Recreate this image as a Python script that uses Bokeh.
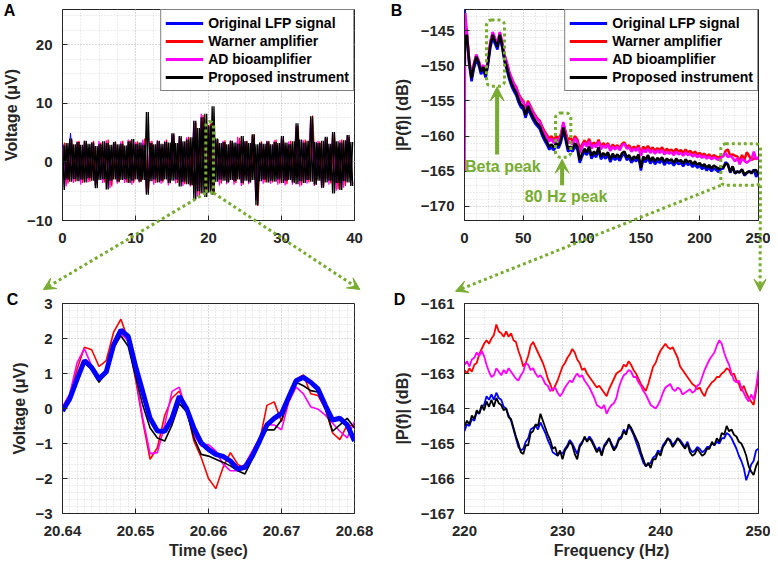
import numpy as np
from bokeh.plotting import figure
from bokeh.models import (Range1d, FixedTicker, Arrow, VeeHead, BoxAnnotation,
                          Label, Legend, LegendItem, NumeralTickFormatter, GridBox)
from bokeh.embed import file_html
from bokeh.resources import INLINE

FONT = "Liberation Sans"
AXC = "#262626"
GREEN = "#77AC30"
BLUE, RED, MAG, BLK = "#0000FF", "#FF0000", "#FF00FF", "#000000"
SERIES_LABELS = ["Original LFP signal", "Warner amplifier", "AD bioamplifier", "Proposed instrument"]
SERIES_COLORS = [BLUE, RED, MAG, BLK]

# ---------------- Panel A: raw LFP, envelope (max/min) per time bin ----------------
black_hi_A = [2.8, 3.2, 4.0, 3.0, 3.4, 2.9, 3.6, 3.1, 3.3, 2.7,
              3.0, 3.5, 3.2, 2.9, 3.4, 3.0, 3.1, 2.8, 3.5, 3.9,
              3.0, 3.3, 2.9, 8.5, 3.2, 3.0, 3.6, 3.1, 3.4, 3.3,
              4.9, 3.2, 4.4, 3.5, 3.8, 4.2, 7.0, 5.8, 7.6, 8.2,
              6.2, 9.5, 4.0, 3.2, 3.4, 3.0, 3.6, 3.3, 3.1, 4.4,
              3.5, 3.2, 4.7, 3.0, 3.3, 3.1, 3.5, 3.0, 3.4, 3.2,
              4.4, 3.3, 3.0, 3.5, 6.6, 3.8, 3.3, 3.6, 7.8, 3.4,
              3.2, 3.6, 4.3, 3.1, 5.1, 3.5, 3.3, 3.7, 4.6, 3.4]
black_lo_A = [-4.8, -3.0, -3.4, -2.9, -3.3, -3.0, -3.5, -2.8, -3.2, -4.5,
              -3.1, -2.9, -4.7, -3.2, -3.0, -3.4, -3.1, -2.9, -3.6, -3.2,
              -3.0, -3.4, -3.1, -5.6, -3.3, -3.0, -3.5, -3.2, -3.0, -3.6,
              -3.2, -3.0, -4.2, -3.4, -3.8, -4.0, -6.4, -5.0, -5.4, -6.0,
              -5.2, -5.6, -3.4, -3.0, -3.2, -3.5, -3.1, -3.3, -3.0, -3.6,
              -3.2, -3.5, -3.1, -7.4, -3.3, -3.0, -3.5, -3.2, -3.4, -3.0,
              -3.6, -3.2, -3.1, -3.5, -3.8, -3.3, -3.6, -3.1, -3.4, -3.9,
              -3.2, -4.4, -3.5, -3.2, -5.4, -3.6, -4.8, -3.3, -3.5, -4.1]
mag_hi_A = [3.2, 3.9, 3.5, 3.6, 3.4, 3.6, 3.7, 3.3, 3.5, 3.8,
            3.4, 3.8, 3.5, 3.7, 3.6, 4.8, 4.3, 4.2, 7.0, 8.2,
            6.3, 3.9, 3.6, 3.7, 4.3, 3.5, 4.6, 3.3, 3.6, 3.7,
            4.2, 3.5, 6.2, 3.7, 7.5, 3.6, 4.1, 4.8, 3.7, 4.5]
mag_lo_A = [-4.2, -3.6, -3.9, -3.5, -4.1, -3.6, -4.5, -3.7, -3.6, -3.9,
            -3.5, -5.3, -3.9, -3.7, -4.0, -3.7, -4.1, -4.2, -5.9, -5.5,
            -4.7, -4.0, -3.8, -3.9, -4.1, -3.8, -6.6, -3.7, -3.7, -3.9,
            -4.0, -3.9, -4.2, -3.7, -4.1, -4.5, -3.9, -4.9, -4.4, -4.0]
red_hi_A = [3.3, 3.8, 3.6, 3.5, 3.6, 3.3, 3.8, 3.5, 3.6, 3.7,
            3.5, 4.0, 3.6, 3.5, 3.8, 4.6, 4.1, 4.3, 6.8, 8.0,
            6.6, 3.8, 3.7, 3.6, 4.1, 3.6, 4.7, 3.5, 3.5, 3.8,
            4.0, 3.6, 6.1, 3.8, 7.9, 3.5, 4.0, 4.7, 3.8, 4.3]
red_lo_A = [-3.7, -3.4, -3.6, -3.4, -3.7, -3.5, -4.2, -3.5, -3.5, -3.6,
            -3.4, -5.2, -3.6, -3.5, -3.7, -3.6, -3.8, -4.0, -5.8, -5.4,
            -5.0, -3.7, -3.5, -3.6, -3.9, -3.5, -7.5, -3.5, -3.5, -3.7,
            -3.8, -3.6, -4.0, -3.5, -3.9, -4.3, -3.7, -4.7, -4.1, -3.8]
blue_hi_A = [3.0, 4.9, 3.1, 2.9, 3.0, 3.2, 3.0, 3.1, 2.9, 3.0,
             3.1, 3.2, 3.0, 2.9, 3.1, 3.0, 3.2, 3.0, 3.3, 3.4,
             3.5, 3.0, 3.1, 3.0, 3.2, 2.9, 3.1, 3.0, 3.2, 3.0,
             3.1, 3.0, 3.3, 3.1, 3.0, 3.2, 3.1, 3.0, 3.2, 3.1]
blue_lo_A = [-3.0, -2.9, -3.1, -3.0, -2.9, -3.1, -3.0, -2.9, -3.1, -3.0,
             -3.0, -3.2, -2.9, -3.0, -3.1, -3.0, -2.9, -3.1, -3.3, -3.2,
             -3.4, -3.0, -2.9, -3.1, -3.0, -3.2, -3.0, -3.1, -2.9, -3.0,
             -3.1, -3.0, -3.2, -2.9, -3.0, -3.1, -3.0, -2.9, -3.1, -3.0]

# ---------------- Panel B: spectrum ----------------
freq_B = [0, 0.6] + list(range(2, 251, 2))
blue_B = [-141.0, -143.5,
          -145.9, -149.9, -152.2, -150.4, -149.1, -149.9, -151.2, -150.6, -151.7, -149.9,
          -147.4, -146.0, -146.9, -147.7, -146.0, -147.4, -149.4, -150.6, -151.9, -152.9,
          -153.6, -154.2, -155.2, -155.9, -156.2, -157.4, -156.1, -156.9, -157.6, -158.2,
          -158.6, -159.0, -159.9, -160.6, -161.2, -161.9, -161.6, -162.0, -161.4, -161.7,
          -160.9, -159.2, -160.6, -162.2, -161.9, -162.2, -161.4, -161.9, -163.8, -162.9,
          -162.2, -162.7, -161.9, -163.2, -162.6, -163.0, -162.0, -163.3, -162.8, -163.2,
          -162.7, -163.7, -162.9, -163.4, -163.0, -163.5, -162.8, -162.6, -163.4, -163.1,
          -163.8, -163.3, -163.6, -163.0, -164.9, -163.3, -163.7, -163.1, -163.9, -163.4,
          -164.0, -163.5, -163.8, -163.4, -164.1, -163.6, -163.9, -163.7, -164.2, -163.6,
          -164.0, -163.8, -164.3, -163.7, -164.1, -163.9, -164.4, -164.0, -164.5, -164.2,
          -164.7, -164.4, -164.9, -164.5, -165.0, -164.6, -164.8, -165.1, -164.7, -164.6,
          -163.7, -164.0, -165.2, -164.4, -165.3, -165.1, -165.1, -164.8, -165.6, -165.3,
          -165.0, -165.2, -164.8, -165.8, -165.2]
red_B = [-149.0, -145.5,
         -145.2, -149.3, -151.5, -149.8, -148.5, -149.3, -150.5, -150.0, -151.0, -149.2,
         -146.7, -145.3, -146.2, -147.0, -145.3, -146.6, -148.5, -149.6, -150.9, -151.8,
         -152.5, -153.0, -154.0, -154.6, -155.0, -156.2, -155.0, -155.7, -156.4, -157.0,
         -157.5, -157.8, -158.6, -159.3, -159.8, -160.4, -160.0, -160.6, -160.0, -160.4,
         -159.7, -158.2, -159.4, -160.6, -160.2, -160.8, -160.0, -160.5, -161.8, -161.2,
         -160.6, -161.1, -160.4, -161.4, -160.9, -161.3, -160.5, -161.5, -161.0, -161.4,
         -161.0, -161.8, -161.2, -161.6, -161.3, -161.7, -161.1, -160.9, -161.6, -161.3,
         -161.9, -161.5, -161.8, -161.3, -162.4, -161.5, -161.9, -161.4, -162.0, -161.6,
         -162.1, -161.7, -162.0, -161.6, -162.2, -161.8, -162.1, -161.9, -162.3, -161.8,
         -162.2, -162.0, -162.4, -161.9, -162.3, -162.1, -162.5, -162.2, -162.6, -162.4,
         -162.7, -162.5, -162.9, -162.6, -163.0, -162.7, -162.9, -163.1, -162.8, -162.9,
         -162.1, -161.9, -162.8, -162.6, -162.8, -162.9, -163.5, -162.7, -163.4, -162.3,
         -162.8, -163.4, -163.2, -163.2, -163.1]
mag_B = [-165.0, -142.5,
         -145.1, -149.2, -151.4, -149.7, -148.4, -149.2, -150.4, -149.9, -150.9, -149.1,
         -146.6, -145.2, -146.1, -146.9, -145.2, -146.5, -148.4, -149.5, -150.8, -151.7,
         -152.6, -153.1, -154.1, -154.8, -155.2, -156.4, -155.2, -155.9, -156.6, -157.2,
         -157.6, -158.0, -158.9, -159.6, -160.1, -160.8, -160.4, -161.0, -160.4, -160.7,
         -160.0, -158.0, -159.6, -161.0, -160.8, -161.2, -160.3, -160.9, -162.4, -161.6,
         -160.9, -161.5, -160.7, -161.8, -161.2, -161.6, -160.8, -161.9, -161.3, -161.7,
         -161.2, -162.1, -161.5, -161.9, -161.5, -162.0, -161.3, -161.1, -161.8, -161.6,
         -162.2, -161.8, -162.1, -161.6, -162.8, -161.9, -162.3, -161.8, -162.4, -162.0,
         -162.5, -162.0, -162.4, -162.0, -162.6, -162.2, -162.5, -162.3, -162.7, -162.2,
         -162.6, -162.4, -162.8, -162.3, -162.7, -162.5, -162.9, -162.6, -163.0, -162.7,
         -163.1, -162.8, -163.2, -162.9, -163.3, -163.0, -163.2, -163.4, -163.1, -162.8,
         -162.4, -163.0, -162.8, -163.1, -163.6, -163.1, -164.0, -163.2, -163.5, -163.8,
         -163.5, -163.3, -162.2, -163.3, -163.0]
black_B = [-150.0, -146.0,
           -145.6, -149.5, -151.8, -150.0, -148.7, -149.5, -150.8, -150.2, -151.3, -149.5,
           -147.0, -145.6, -146.5, -147.3, -145.6, -147.0, -149.0, -150.2, -151.5, -152.5,
           -153.2, -153.8, -154.8, -155.5, -155.8, -157.0, -155.7, -156.5, -157.2, -157.8,
           -158.2, -158.6, -159.5, -160.2, -160.8, -161.5, -161.2, -161.6, -161.0, -161.3,
           -160.5, -158.8, -160.2, -161.8, -161.5, -161.8, -161.0, -161.5, -163.4, -162.5,
           -161.8, -162.3, -161.5, -162.8, -162.2, -162.6, -161.6, -162.9, -162.4, -162.8,
           -162.3, -163.3, -162.5, -163.0, -162.6, -163.1, -162.4, -162.2, -163.0, -162.7,
           -163.4, -162.9, -163.2, -162.6, -164.5, -162.9, -163.3, -162.7, -163.5, -163.0,
           -163.6, -163.1, -163.4, -163.0, -163.7, -163.2, -163.5, -163.3, -163.8, -163.2,
           -163.6, -163.4, -163.9, -163.3, -163.7, -163.5, -164.0, -163.6, -164.1, -163.8,
           -164.3, -164.0, -164.5, -164.1, -164.6, -164.2, -164.4, -164.7, -164.3, -164.5,
           -163.9, -164.1, -165.1, -164.3, -165.3, -165.0, -165.2, -164.7, -165.5, -165.2,
           -165.0, -165.3, -164.9, -164.8, -165.6]

# ---------------- Panel C: zoomed time signal ----------------
time_C = [round(20.640 + 0.001 * k, 3) for k in range(41)]
blue_C = [-0.07, 0.28, 0.84, 1.37, 1.17, 0.84, 1.05, 1.82, 2.24, 2.06, 1.21, 0.47, -0.28, -0.64,
          -0.65, -0.28, 0.35, 0.0, -0.56, -0.98, -1.17, -1.31, -1.37, -1.5, -1.73, -1.68, -1.36,
          -0.93, -0.47, -0.28, -0.14, 0.33, 0.79, 0.89, 0.75, 0.56, 0.09, -0.33, -0.28, -0.47, -0.93]
red_C = [0.0, 0.37, 1.12, 1.75, 1.68, 1.2, 1.37, 2.18, 2.55, 1.96, 0.84, -0.37, -1.45, -1.12,
         -0.2, 0.3, 0.5, 0.0, -0.93, -1.4, -2.0, -2.29, -1.68, -1.26, -1.59, -1.73, -1.31,
         -0.93, 0.09, 0.19, -0.37, 0.28, 0.84, 0.96, 0.42, 0.37, 0.0, -0.7, -0.89, -0.47, -0.5]
mag_C = [0.05, 0.42, 1.31, 1.71, 1.21, 0.79, 1.03, 1.87, 2.15, 1.92, 0.93, -0.28, -1.29, -1.26,
         -0.47, 0.49, 0.61, -0.09, -0.75, -1.07, -1.03, -1.21, -1.59, -1.78, -1.78, -1.59, -1.21,
         -0.84, -0.47, -0.47, -0.61, 0.19, 0.61, 0.42, 0.05, -0.02, -0.19, -0.42, -0.65, -0.84, -0.37]
black_C = [-0.02, 0.28, 0.79, 1.31, 1.12, 0.75, 1.05, 1.73, 2.08, 1.78, 0.93, 0.09, -0.56, -0.84,
           -0.93, -0.47, 0.14, -0.09, -0.84, -1.31, -1.36, -1.45, -1.54, -1.64, -1.78, -1.87, -1.45,
           -0.93, -0.61, -0.61, -0.33, 0.23, 0.75, 0.65, 0.51, 0.47, 0.0, -0.65, -0.47, -0.28, -0.56]

# ---------------- Panel D: zoomed spectrum 220-250 Hz ----------------
freq_D = [220 + 0.25 * k for k in range(121)]
blue_D = [-164.65, -164.45, -164.5, -164.3, -164.35, -164.1, -164.15, -163.95,
          -163.9, -163.65, -163.75, -163.6, -163.75, -163.55, -163.7, -163.75,
          -163.95, -164.0, -164.2, -164.35, -164.6, -164.85, -165.1, -165.2,
          -165.15, -164.95, -164.85, -164.6, -164.55, -164.5, -164.6, -164.4,
          -164.55, -164.7, -164.9, -165.05, -165.25, -165.3, -165.35, -165.25,
          -165.3, -165.15, -165.05, -164.9, -165.0, -165.15, -165.3, -165.05,
          -164.95, -164.85, -164.9, -164.8, -164.9, -165.05, -165.2, -165.1,
          -165.3, -165.05, -164.95, -164.85, -165.0, -165.15, -165.05, -164.85,
          -164.8, -164.6, -164.7, -164.5, -164.6, -164.75, -164.95, -165.15,
          -165.35, -165.55, -165.65, -165.6, -165.55, -165.4, -165.35, -165.2,
          -165.25, -165.05, -164.95, -164.85, -164.9, -165.05, -164.95, -164.85,
          -164.9, -165.0, -165.1, -164.95, -165.15, -165.25, -165.2, -165.1,
          -165.15, -165.25, -165.2, -165.1, -165.1, -165.0, -165.05, -164.95,
          -165.0, -164.85, -164.85, -164.7, -164.75, -164.85, -165.0, -165.15,
          -165.35, -165.5, -165.7, -166.05, -165.85, -165.6, -165.5, -165.2,
          -165.15]
red_D = [-162.9, -163.0, -162.85, -162.95, -162.75, -162.7, -162.45, -162.3,
         -162.15, -162.05, -162.15, -162.0, -161.9, -161.6, -161.8, -161.85,
         -161.95, -161.8, -161.95, -161.85, -162.05, -162.1, -162.35, -162.55,
         -162.8, -162.7, -162.5, -162.2, -162.1, -162.25, -162.4, -162.55,
         -162.7, -162.9, -163.15, -163.3, -163.5, -163.35, -163.2, -163.0,
         -162.8, -162.7, -162.55, -162.45, -162.3, -162.4, -162.6, -162.7,
         -162.9, -162.85, -163.0, -163.1, -163.2, -163.3, -163.4, -163.35,
         -163.45, -163.55, -163.65, -163.45, -163.3, -163.15, -163.0, -162.95,
         -162.9, -162.75, -162.8, -162.65, -162.75, -162.9, -163.0, -163.15,
         -163.3, -163.4, -163.5, -163.3, -163.05, -162.8, -162.7, -162.5,
         -162.35, -162.25, -162.15, -162.25, -162.3, -162.25, -162.4, -162.55,
         -162.8, -162.9, -163.0, -163.1, -163.2, -163.3, -163.35, -163.45,
         -163.4, -163.55, -163.65, -163.45, -163.35, -163.25, -163.2, -163.1,
         -163.1, -163.0, -162.95, -162.85, -162.9, -163.05, -163.0, -163.2,
         -163.3, -163.5, -163.35, -163.55, -163.7, -163.8, -163.9, -163.5,
         -163.1]
mag_D = [-162.75, -162.65, -162.8, -162.6, -162.55, -162.4, -162.5, -162.35,
         -162.5, -162.75, -162.95, -163.1, -163.05, -162.85, -162.95, -163.05,
         -162.9, -163.0, -162.85, -162.95, -163.05, -163.15, -163.2, -163.05,
         -162.95, -162.7, -162.75, -162.9, -162.85, -163.0, -163.1, -163.05,
         -163.15, -163.3, -163.35, -163.5, -163.45, -163.4, -163.55, -163.65,
         -163.55, -163.4, -163.3, -163.2, -163.25, -163.1, -163.0, -163.1,
         -163.05, -163.2, -163.3, -163.4, -163.55, -163.7, -163.9, -163.95,
         -164.0, -163.9, -164.15, -164.0, -163.9, -163.85, -163.7, -163.4,
         -163.2, -163.05, -163.0, -162.9, -162.95, -163.1, -163.1, -163.25,
         -163.35, -163.5, -163.6, -163.75, -163.9, -163.95, -164.0, -163.9,
         -163.75, -163.55, -163.4, -163.35, -163.3, -163.45, -163.5, -163.4,
         -163.45, -163.6, -163.55, -163.5, -163.45, -163.55, -163.5, -163.35,
         -163.3, -163.1, -162.9, -162.75, -162.6, -162.5, -162.4, -162.2,
         -162.05, -162.15, -162.4, -162.6, -162.75, -163.0, -163.2, -163.25,
         -163.2, -163.4, -163.55, -163.7, -163.8, -163.6, -163.75, -163.4,
         -162.9]
black_D = [-164.5, -164.35, -164.45, -164.2, -164.3, -164.05, -164.15, -163.9,
           -164.05, -163.8, -163.95, -163.75, -163.95, -163.7, -163.85, -163.9,
           -164.05, -164.0, -164.25, -164.3, -164.55, -164.8, -165.0, -165.25,
           -165.3, -165.05, -165.05, -164.7, -164.65, -164.45, -164.5, -164.15,
           -164.35, -164.55, -164.75, -164.9, -165.15, -165.1, -165.35, -165.2,
           -165.45, -165.2, -165.1, -164.95, -165.05, -165.3, -165.45, -165.1,
           -165.0, -164.8, -164.95, -164.85, -164.95, -165.1, -165.25, -165.15,
           -165.35, -165.1, -165.0, -164.85, -165.05, -165.2, -165.1, -164.9,
           -164.85, -164.65, -164.75, -164.45, -164.55, -164.7, -164.85, -165.0,
           -165.25, -165.45, -165.65, -165.55, -165.7, -165.45, -165.45, -165.25,
           -165.35, -165.1, -165.0, -164.85, -164.95, -165.1, -165.0, -164.85,
           -164.95, -165.05, -165.15, -165.0, -165.25, -165.35, -165.3, -165.15,
           -165.25, -165.35, -165.3, -165.15, -165.15, -164.95, -165.05, -164.85,
           -164.95, -164.7, -164.75, -164.5, -164.65, -164.6, -164.75, -164.8,
           -164.95, -165.0, -165.15, -165.35, -165.65, -165.8, -165.9, -165.65,
           -165.5]

# ---------------- layout geometry (pixels inside the 770x561 layout) ----------------
W_LEFT, W_RIGHT, H_TOP, H_BOT = 390, 380, 290, 271
BORD_L = (49, 36)     # left column: min_border left/right
BORD_R = (64, 12)     # right column
BORD_T = (9, 70)      # top row: top/bottom
BORD_B = (13, 48)     # bottom row

# ---------------- helpers ----------------
def style_axis(ax):
    ax.axis_line_color = AXC
    ax.axis_line_width = 1
    ax.major_tick_line_color = AXC
    ax.major_tick_in = 5
    ax.major_tick_out = 0
    ax.minor_tick_line_color = None
    ax.major_label_text_font = FONT
    ax.major_label_text_font_style = "bold"
    ax.major_label_text_color = AXC
    ax.major_label_text_font_size = "15px"
    ax.axis_label_text_font = FONT
    ax.axis_label_text_font_style = "bold"
    ax.axis_label_text_font_size = "16px"
    ax.axis_label_text_color = AXC


def make_fig(width, height, xr, yr, bx, by, xt, xm, yt, ym, xfmt=None):
    p = figure(width=width, height=height, x_range=Range1d(*xr), y_range=Range1d(*yr),
               output_backend="svg", toolbar_location=None,
               min_border_left=bx[0], min_border_right=bx[1],
               min_border_top=by[0], min_border_bottom=by[1])
    p.background_fill_color = "white"
    p.border_fill_color = "white"
    p.outline_line_color = AXC
    p.xaxis.ticker = FixedTicker(ticks=xt, minor_ticks=xm)
    p.yaxis.ticker = FixedTicker(ticks=yt, minor_ticks=ym)
    if xfmt is not None:
        p.xaxis.formatter = xfmt
    style_axis(p.xaxis[0])
    style_axis(p.yaxis[0])
    p.xaxis[0].major_label_standoff = 8
    p.yaxis[0].major_label_standoff = 6
    for g in (p.xgrid[0], p.ygrid[0]):
        g.grid_line_color = "#c4c4c4"
        g.grid_line_dash = "1 2"
        g.minor_grid_line_color = "#d8d8d8"
        g.minor_grid_line_dash = "1 2"
    return p


def add_legend(p):
    items = []
    for lab, col in zip(SERIES_LABELS, SERIES_COLORS):
        r = p.line([np.nan, np.nan], [np.nan, np.nan], line_color=col, line_width=3)
        items.append(LegendItem(label=lab, renderers=[r]))
    leg = Legend(items=items, location="top_right", margin=0, padding=4, spacing=0,
                 label_height=18, glyph_height=18, glyph_width=38, label_standoff=5,
                 border_line_color="black", border_line_width=1,
                 background_fill_color="white", background_fill_alpha=1,
                 label_text_font=FONT, label_text_font_style="bold",
                 label_text_font_size="14px", label_text_color="black")
    p.add_layout(leg)


def green_box(p, l, r, t, b):
    p.add_layout(BoxAnnotation(left=l, right=r, top=t, bottom=b, fill_alpha=0,
                               line_color=GREEN, line_alpha=1.0, line_width=3, line_dash="3 3",
                               border_radius=5))


def green_arrow(p, xs, ys, xe, ye, dash=True, width=3, size=12):
    p.add_layout(Arrow(end=VeeHead(size=size, fill_color=GREEN, line_color=GREEN, line_width=1),
                       x_start=xs, y_start=ys, x_end=xe, y_end=ye,
                       line_color=GREEN, line_width=width,
                       line_dash="3 3" if dash else "solid"))


def zigzag(t0, dt, hi, lo, phase=0.0, flip=False):
    xs, ys = [], []
    for i, (h, l) in enumerate(zip(hi, lo)):
        xs += [t0 + i * dt + phase, t0 + i * dt + dt / 2 + phase]
        ys += [l, h] if flip else [h, l]
    return xs, ys


# ---------------- Panel A ----------------
XR_A, YR_A = (0, 40), (-10, 26)
pA = make_fig(W_LEFT, H_TOP, XR_A, YR_A, BORD_L, BORD_T,
              [0, 10, 20, 30, 40], list(np.arange(0, 40.01, 2.5)),
              [-10, 0, 10, 20], list(np.arange(-10, 26.01, 2.5)))
pA.yaxis[0].axis_label = "Voltage (μV)"
pA.yaxis[0].axis_label_standoff = 4
for (hi, lo, dt, ph, col, lw) in [(blue_hi_A, blue_lo_A, 1.0, 0.1, BLUE, 1.0),
                                  (red_hi_A, red_lo_A, 1.0, 0.25, RED, 1.2),
                                  (mag_hi_A, mag_lo_A, 1.0, 0.0, MAG, 1.2)]:
    xs, ys = zigzag(0, dt, hi, lo, ph)
    pA.line(xs, ys, line_color=col, line_width=lw)
for flip in (False, True):
    xs, ys = zigzag(0, 0.5, black_hi_A, black_lo_A, 0.0, flip)
    pA.line(xs, ys, line_color=BLK, line_width=1.3)
add_legend(pA)
BOX_A = (20.5, 21.5, 6.9, -5.3)

# ---------------- Panel B ----------------
XR_B, YR_B = (0, 250), (-172, -142)
pB = make_fig(W_RIGHT, H_TOP, XR_B, YR_B, BORD_R, BORD_T,
              [0, 50, 100, 150, 200, 250], list(range(0, 251, 10)),
              [-170, -165, -160, -155, -150, -145], list(range(-172, -141, 1)))
pB.yaxis[0].axis_label = "|P(f)| (dB)"
pB.yaxis[0].axis_label_standoff = 7
for ys, col in zip([blue_B, red_B, mag_B, black_B], SERIES_COLORS):
    pB.line(freq_B, ys, line_color=col, line_width=2.5)
add_legend(pB)
green_box(pB, 18.7, 34.0, -143.5, -152.9)
green_box(pB, 77.4, 90.4, -156.7, -163.0)
green_arrow(pB, 27.7, -162.6, 27.7, -153.0, dash=False, width=4, size=14)
green_arrow(pB, 83.0, -167.0, 83.0, -163.3, dash=False, width=4, size=14)
for txt, x, y in [("Beta peak", 32.6, -164.3), ("80 Hz peak", 86.3, -168.6)]:
    pB.add_layout(Label(x=x, y=y, text=txt, text_font=FONT, text_font_style="bold",
                        text_font_size="16px", text_color=GREEN, text_align="center",
                        text_baseline="middle"))

# ---------------- Panel C ----------------
XR_C, YR_C = (20.64, 20.68), (-3, 3)
pC = make_fig(W_LEFT, H_BOT, XR_C, YR_C, BORD_L, BORD_B,
              [20.64, 20.65, 20.66, 20.67, 20.68], time_C,
              [-3, -2, -1, 0, 1, 2, 3], [round(-3 + 0.2 * k, 1) for k in range(31)],
              xfmt=NumeralTickFormatter(format="0.00"))
pC.yaxis[0].axis_label = "Voltage (μV)"
pC.yaxis[0].axis_label_standoff = 4
pC.xaxis[0].axis_label = "Time (sec)"
pC.xaxis[0].axis_label_standoff = 3
pC.line(time_C, red_C, line_color=RED, line_width=1.6)
pC.line(time_C, mag_C, line_color=MAG, line_width=1.6)
pC.line(time_C, black_C, line_color=BLK, line_width=1.6)
pC.line(time_C, blue_C, line_color=BLUE, line_width=5)

# ---------------- Panel D ----------------
XR_D, YR_D = (220, 250), (-167, -161)
pD = make_fig(W_RIGHT, H_BOT, XR_D, YR_D, BORD_R, BORD_B,
              [220, 230, 240, 250], list(range(220, 251, 2)),
              [-167, -166, -165, -164, -163, -162, -161], [round(-167 + 0.2 * k, 1) for k in range(31)])
pD.yaxis[0].axis_label = "|P(f)| (dB)"
pD.yaxis[0].axis_label_standoff = 7
pD.xaxis[0].axis_label = "Frequency (Hz)"
pD.xaxis[0].axis_label_standoff = 3
for ys, col in zip([blue_D, red_D, mag_D, black_D], SERIES_COLORS):
    pD.line(freq_D, ys, line_color=col, line_width=1.8)

# ---------------- transparent overlay for cross-panel connectors ----------------
W_ALL, H_ALL = W_LEFT + W_RIGHT, H_TOP + H_BOT
FRAMES = {
    "A": (BORD_L[0], BORD_T[0], W_LEFT - sum(BORD_L), H_TOP - sum(BORD_T), XR_A, YR_A),
    "B": (W_LEFT + BORD_R[0], BORD_T[0], W_RIGHT - sum(BORD_R), H_TOP - sum(BORD_T), XR_B, YR_B),
    "C": (BORD_L[0], H_TOP + BORD_B[0], W_LEFT - sum(BORD_L), H_BOT - sum(BORD_B), XR_C, YR_C),
    "D": (W_LEFT + BORD_R[0], H_TOP + BORD_B[0], W_RIGHT - sum(BORD_R), H_BOT - sum(BORD_B), XR_D, YR_D),
}


def to_px(panel, x, y):
    fl, ft, fw, fh, (x0, x1), (y0, y1) = FRAMES[panel]
    return fl + (x - x0) / (x1 - x0) * fw, ft + (y1 - y) / (y1 - y0) * fh


ov = figure(width=W_ALL, height=H_ALL, x_range=Range1d(0, W_ALL), y_range=Range1d(H_ALL, 0),
            output_backend="svg", toolbar_location=None,
            min_border_left=0, min_border_right=0, min_border_top=0, min_border_bottom=0,
            x_axis_type=None, y_axis_type=None, frame_align=False)
ov.outline_line_color = None
ov.background_fill_alpha = 0
ov.border_fill_alpha = 0

# zoom box in A and its connectors to C corners
al_, at_ = to_px("A", BOX_A[0], BOX_A[2])
ar_, ab_ = to_px("A", BOX_A[1], BOX_A[3])
green_box(ov, al_, ar_, at_, ab_)
for (sx, xc) in [(al_, 20.6392), (ar_, 20.6807)]:
    ex, ey = to_px("C", xc, 3.40)
    green_arrow(ov, sx, ab_, ex, ey)
# B 220-250 Hz box -> D corners
bl_, bt_ = to_px("B", 219.0, -161.1)
br_, bb_ = to_px("B", 251.6, -167.0)
green_box(ov, bl_, br_, bt_, bb_)
ex, ey = to_px("D", 220.1, -160.65)
green_arrow(ov, bl_, bb_, ex, ey)
ex, ey = to_px("D", 250.15, -160.65)
green_arrow(ov, br_, bb_, ex, ey)

# panel letters (offset in pixels from each frame's top-left corner)
for name, dx, dy in [("A", -40, -8), ("B", -58, -8), ("C", -37, -13), ("D", -55, -13)]:
    fl, ft = FRAMES[name][0], FRAMES[name][1]
    ov.add_layout(Label(x=fl + dx, y=ft + dy, text=name, text_font=FONT, text_font_style="bold",
                        text_font_size="16px", text_align="center", text_baseline="top",
                        text_color="black"))

layout = GridBox(children=[(pA, 0, 0), (pB, 0, 1), (pC, 1, 0), (pD, 1, 1), (ov, 0, 0, 2, 2)])
open("out.html", "w").write(file_html(layout, INLINE))
